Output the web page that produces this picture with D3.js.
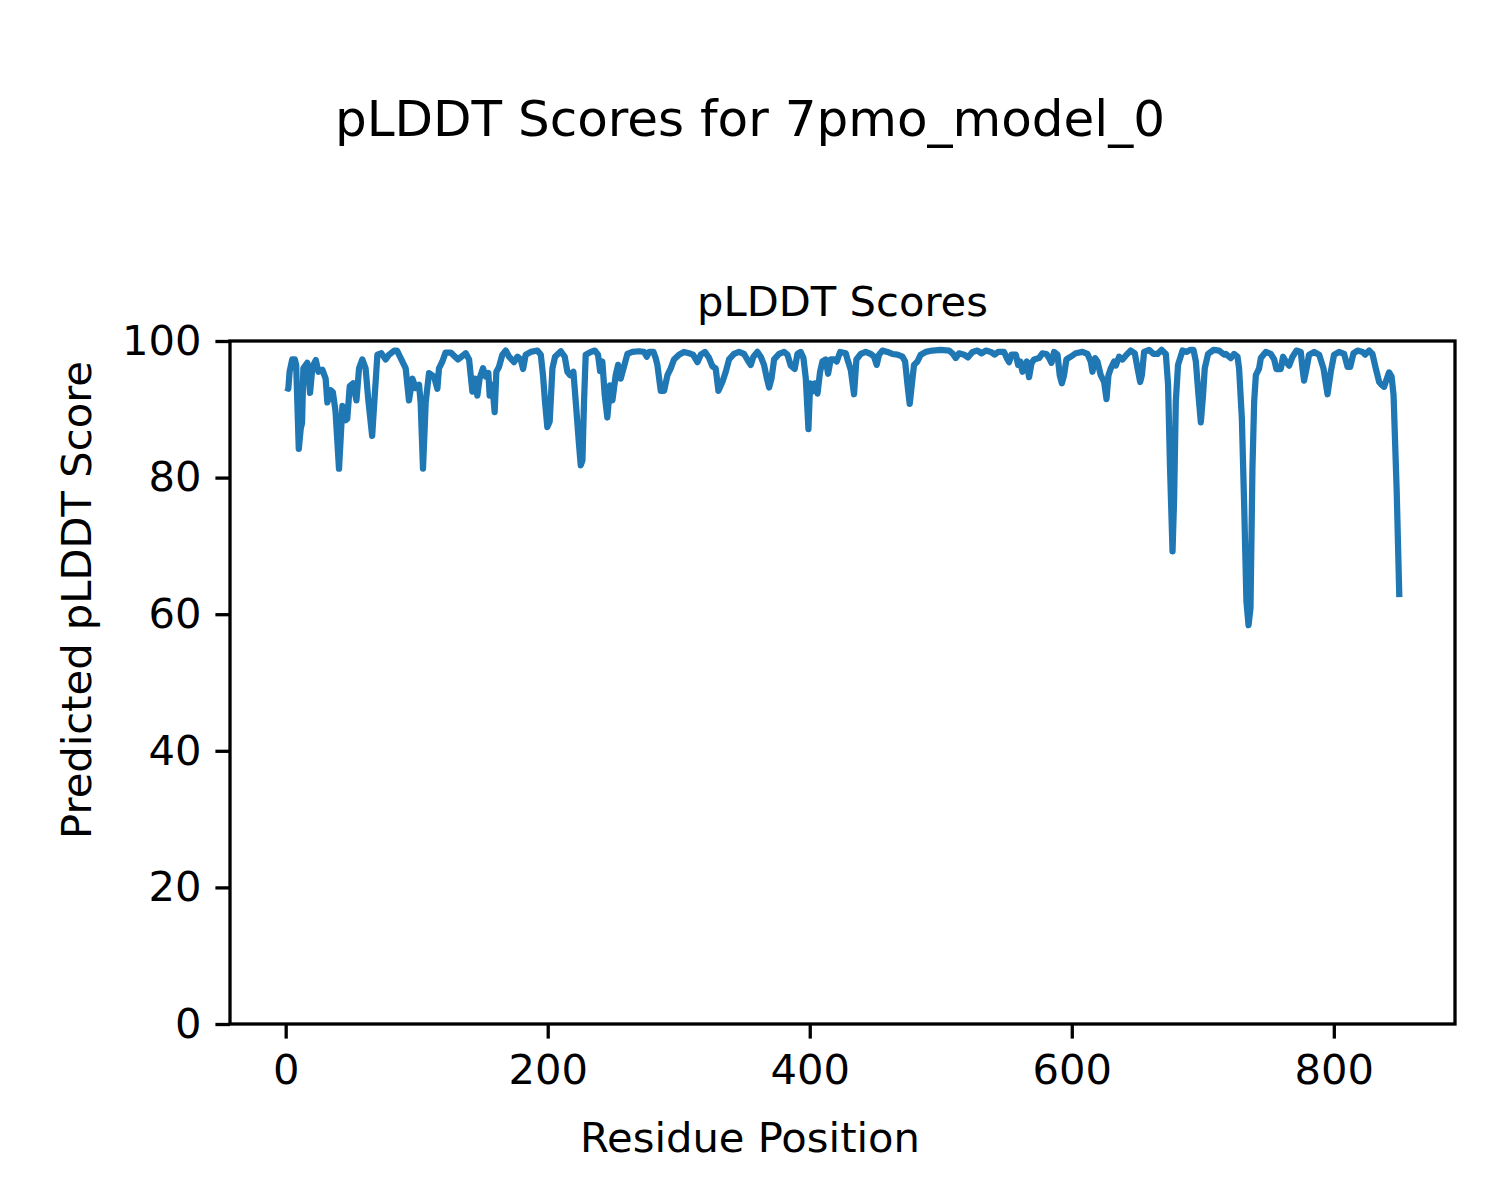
<!DOCTYPE html>
<html><head><meta charset="utf-8">
<script src="https://cdn.jsdelivr.net/npm/d3@7"></script>
<style>body{margin:0;background:#fff}svg{display:block}text{font-family:"DejaVu Sans",sans-serif;fill:#000}</style>
</head><body><svg id="c" width="1500" height="1200"></svg>
<script>
const figTitle = "pLDDT Scores for 7pmo_model_0";
const axTitle = "pLDDT Scores";
const xLabel = "Residue Position";
const yLabel = "Predicted pLDDT Score";
const xTicks = [0, 200, 400, 600, 800];
const yTicks = [0, 20, 40, 60, 80, 100];
const residues = [0,2,3,5,7,8,10,11.5,12.5,13.5,16.5,18.6,20.4,23,25,28,30.5,31.8,34.4,36,38,40.7,43.3,45.8,47,48.9,51.4,54,56,58.5,61,63,66,
70,73,76.3,78.9,83,85,87.8,91.6,94.1,96.7,99.2,101.8,103,104.8,106.9,109.4,113.2,115.8,117,119.6,122,126,131.5,137.4,
140,141.2,142.5,144.5,146.3,148,150.6,152.7,154.7,155.7,157.7,159.5,160.8,162.8,165.4,168,170.5,174.3,176.9,179.4,181.2,183.2,187,192.1,194.7,196.4,198,199.7,201.5,203.6,205.6,210,
213,215,217,219.6,221.4,223.9,225.2,226.5,227.7,229,232.8,235.9,238.4,240,241.7,243.5,245.5,247.6,249.4,251.9,253.7,255.7,258.3,260.8,264.6,269.7,273.5,275.6,277.4,280.7,282.4,
283.7,286.3,288.8,291.4,293.9,296.4,300.2,304,307.9,310.9,314.3,316.8,320.1,323.2,325.7,328.2,330.3,333.3,335.9,338.4,342.2,346,349.9,353.2,355,
357,360,362.6,365.1,367.2,369,370.8,372.8,376.6,380.4,383,385.5,388.5,390.6,393.1,395.2,397,399,400.3,402,404,405.9,407.9,409.7,412.2,414,416,418.6,420.6,423.2,427.5,
428.8,431.3,433.8,435.6,438.9,442.7,446.6,449.1,451.1,452.9,455.5,459.3,463.1,466.9,470.8,472.8,474.6,476.3,478.4,479.6,482.2,484.7,488.5,493.6,500,
506.4,508.9,511.5,514,517.8,520.8,524.2,528,531.1,534.4,538.2,541.2,543.8,548.3,550.4,552.2,554,557.3,559,560.6,562.4,564.1,565.6,567.4,569.2,571.2,
575,577.6,580.7,582.7,584.5,586.5,589.1,590.8,592.4,594.1,595.9,599.2,603,608.2,612,614.5,615.8,617.8,619.6,622.1,624.7,626.5,628,629.8,632.3,633.6,636.1,638.7,641.8,645,
648.1,650.2,652.2,653.5,655.2,659,662.4,665.4,668.5,671.8,673.5,675,676.9,678.1,679.4,681.1,684.5,687.8,690.3,692.9,694.7,696.7,698.5,700.2,701.5,704,708.2,712.5,716.3,
717.6,721.4,723.9,726.5,727.7,729.8,731.5,733.3,734.9,736.4,737.9,739.2,740.5,743,744.3,748.1,751.9,754.5,756.2,759.5,761.3,763.4,765.9,768.5,771.5,774.8,776.1,777.3,779.2,781.1,785,788.8,
792.1,795.2,797.7,800.2,804,807.9,810.5,812.5,815,818.1,821.9,823.9,827,829.5,832,834.6,836.4,838.4,840.5,842.2,844.1,845.6,848,850];
const scores = [93.2,93.0,95.5,97.3,97.3,96.5,84.2,87.2,88,96,96.8,92.4,96.2,97.2,95.5,95.8,94.5,91,92.8,92.5,89.8,81.3,90.5,88.4,88.6,93.4,93.8,91.3,96,97.3,96,91.5,86.1,
98,98.2,97.3,98,98.6,98.6,97.5,96,91.3,94.5,93.1,93.6,91,81.3,91.1,95.3,94.8,93,96,97,98.3,98.3,97.3,98.2,
97.3,95,92.6,94.5,92,94.5,96,94.8,95.3,92,93.6,89.6,95.5,96.2,98,98.6,97.7,96.9,97.7,97.3,95.9,98,98.4,98.6,98,95,91,87.4,88.2,96,97.7,98.5,
97.7,95.5,95,95.5,91.1,84.8,81.8,82.5,91,98,98.4,98.6,98,95.6,97,92.1,88.8,93.5,91.3,95,96.5,94.5,96.3,98.1,98.4,98.5,98.4,97.7,98.4,98.4,97.5,
96.5,92.7,92.7,95,96,97.3,98,98.4,98.2,98,96.9,98,98.4,97.5,96.3,96,92.7,94,95.5,97.3,98.1,98.4,98.1,97,96.5,
97.7,98.4,97.7,96.5,94.6,93.2,94.5,97.3,98.1,98.4,98,96.4,95.9,98.1,98.4,97.5,94.5,87.1,93.8,92.6,93.8,92.3,95.5,97,97.3,95.2,97.3,97.3,97,98.4,98.2,
97.3,95.8,92.2,97.3,98.1,98.4,98.1,97.7,96.5,98,98.6,98.4,98.1,98,97.7,97,93.6,90.8,94.5,96.5,97,98,98.4,98.6,98.7,
98.6,98.2,97.5,98.2,98,97.6,98.4,98.6,98.2,98.6,98.4,98,98.4,98.4,97.5,96.9,98,98,96.5,97,95.5,96.5,97,94.7,96.7,97.3,
97.5,98.2,98.1,97.5,96.8,98.4,98,95,93.8,95,97.3,97.7,98.2,98.4,98.1,97,95.5,97.5,97,95,94,91.5,95,96,97,96.4,97.7,97.3,98,98.6,
98.2,96,94,95,98.4,98.7,98.1,98.1,98.7,98.1,93.6,81.4,69.2,76.8,91.1,96.5,98.6,98.4,98.7,98.7,97,92.1,88.1,92.1,96,98.1,98.7,98.6,98,
98.1,97.5,98.1,97.7,96,88.7,76.6,61.9,58.4,60.9,81.4,91.1,95,96,97.5,98.4,98.1,97.3,95.9,95.9,97.7,97,96.4,97.7,98.6,98.4,96,94.2,96,98,98.4,98,
96,92.2,95.5,98,98.4,98.1,96.2,96.2,98.2,98.6,98.4,98,98.6,98.1,96,94,93.6,93.3,94.5,95.4,94.8,92.1,78,62.5];

const W = 1500, H = 1200;
const L = 230, R = 1455, T = 341, B = 1024;
const svg = d3.select("#c");
const fs = 41.67;
const x = d3.scaleLinear().domain([-42.5, 892.5]).range([L, R]);
const y = d3.scaleLinear().domain([0, 100]).range([B, T]);
const data = residues.map((r, i) => [r, scores[i]]);

svg.append("path").datum(data)
  .attr("fill", "none").attr("stroke", "#1f77b4").attr("stroke-width", 6.25)
  .attr("stroke-linejoin", "round").attr("stroke-linecap", "butt")
  .attr("d", d3.line().x(d => x(d[0])).y(d => y(d[1])));

const xAxis = svg.append("g").attr("transform", `translate(0,${B})`)
  .call(d3.axisBottom(x).tickValues(xTicks).tickSize(14.6).tickPadding(14).tickFormat(d3.format("d")));
const yAxis = svg.append("g").attr("transform", `translate(${L},0)`)
  .call(d3.axisLeft(y).tickValues(yTicks).tickSize(14.6).tickPadding(14).tickFormat(d3.format("d")));
[xAxis, yAxis].forEach(g => {
  g.select(".domain").remove();
  g.selectAll(".tick line").attr("stroke", "#000").attr("stroke-width", 3.3);
  g.selectAll(".tick text").attr("font-size", fs).attr("font-family", "DejaVu Sans").attr("fill", "#000");
});
xAxis.selectAll(".tick text").attr("dy", "0.76em");

svg.append("rect").attr("x", L).attr("y", T).attr("width", R - L).attr("height", B - T)
  .attr("fill", "none").attr("stroke", "#000").attr("stroke-width", 3.3);

svg.append("text").attr("x", 750).attr("y", 136).attr("text-anchor", "middle").attr("font-size", 50).text(figTitle);
svg.append("text").attr("x", (L + R) / 2).attr("y", 316).attr("text-anchor", "middle").attr("font-size", fs).text(axTitle);
svg.append("text").attr("x", 750).attr("y", 1152).attr("text-anchor", "middle").attr("font-size", fs).text(xLabel);
svg.append("text").attr("transform", "translate(91,600) rotate(-90)").attr("text-anchor", "middle").attr("font-size", fs).text(yLabel);
</script></body></html>
